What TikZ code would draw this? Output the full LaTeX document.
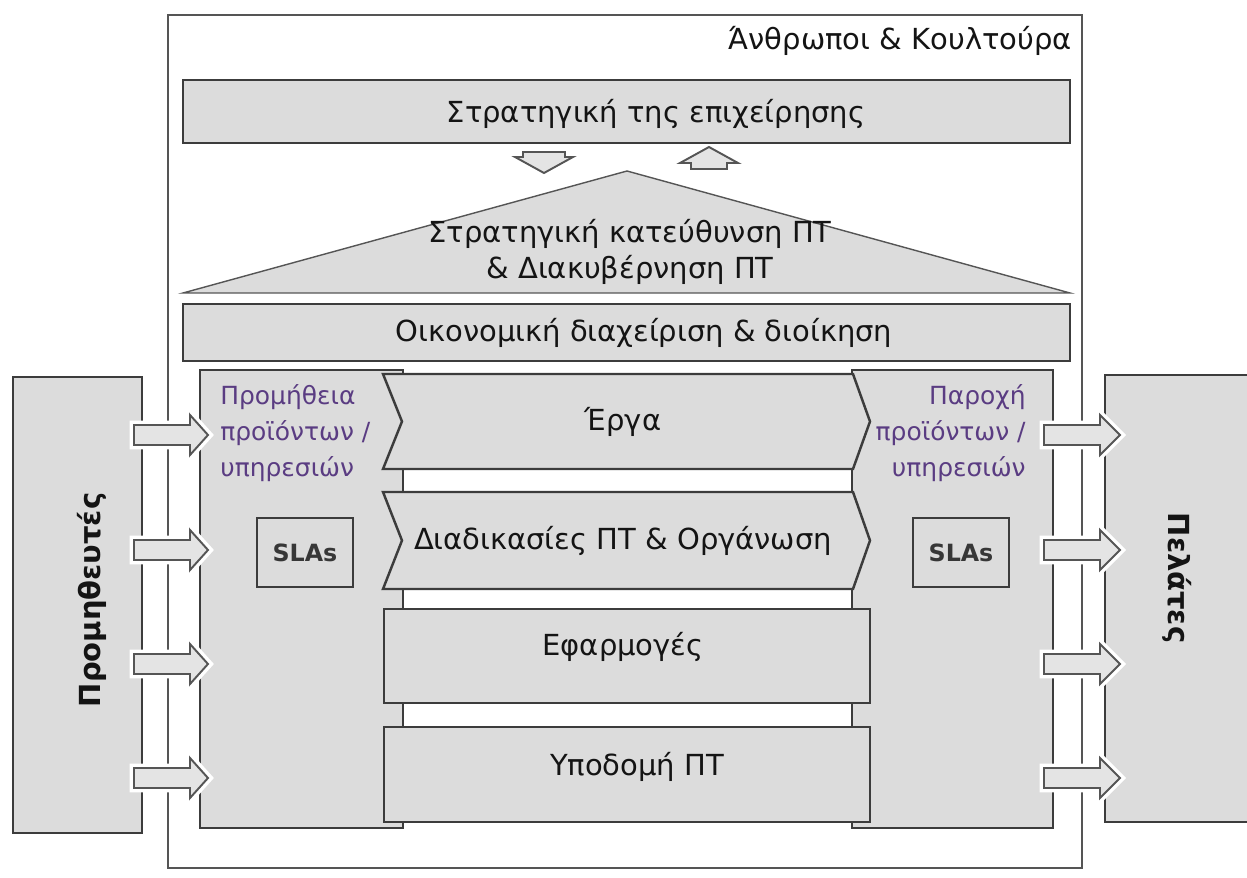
\documentclass[tikz,border=0pt]{standalone}
\usepackage{fontspec}
\setmainfont{DejaVu Sans}
\usepackage{tikz}
\definecolor{boxfill}{HTML}{DCDCDC}
\definecolor{arrowfill}{HTML}{E4E4E4}
\definecolor{edge}{HTML}{3C3C3C}
\definecolor{thinedge}{HTML}{555555}
\definecolor{ink}{HTML}{141414}
\definecolor{panelink}{HTML}{5A3C82}

\begin{document}
\begin{tikzpicture}[
  txt/.style={font=\fontsize{16.5}{20.5}\selectfont,text=ink,inner sep=0pt},
  sidetxt/.style={font=\fontsize{14.2}{20.5}\selectfont,text=panelink,inner sep=0pt},
  bigtxt/.style={font=\bfseries\fontsize{16.5}{20}\selectfont,text=ink,inner sep=0pt},
  layer/.style={fill=boxfill,draw=edge,line width=1.4pt,line join=miter},
  blockarr/.style={fill=arrowfill,draw=thinedge,line width=1.1pt,line join=miter},
  sidearr/.style={blockarr,preaction={draw=white,line width=5pt}}
]
  \useasboundingbox (0,0) rectangle (24.94,17.54);
  % people & culture frame
  \draw[thinedge,line width=1.2pt] (3.36,0.18) rectangle (21.64,17.24);
  \node[txt,anchor=east] (culture) at (21.44,16.72) {Άνθρωποι \& Κουλτούρα};
  % business strategy
  \draw[layer] (3.66,14.68) rectangle (21.40,15.94);
  \node[txt] (bizstrat) at (13.12,15.26) {Στρατηγική της επιχείρησης};
  \draw[blockarr] (10.46,14.50) -- (11.30,14.50) -- (11.30,14.40) -- (11.46,14.40) -- (10.88,14.08) -- (10.30,14.40) -- (10.46,14.40) -- cycle;
  \draw[blockarr] (14.18,14.60) -- (14.76,14.28) -- (14.54,14.28) -- (14.54,14.16) -- (13.82,14.16) -- (13.82,14.28) -- (13.60,14.28) -- cycle;
  % IT governance roof
  \draw[fill=boxfill,draw=thinedge,line width=0.8pt] (3.66,11.68) -- (12.54,14.12) -- (21.40,11.68) -- cycle;
  \node[txt,align=center] (itgov) at (12.60,12.51) {Στρατηγική κατεύθυνση ΠΤ\\\& Διακυβέρνηση ΠΤ};
  % finance
  \draw[layer] (3.66,10.32) rectangle (21.40,11.46);
  \node[txt] (finance) at (12.88,10.88) {Οικονομική διαχείριση \& διοίκηση};
  % side panels
  \draw[layer] (4.00,0.98) rectangle (8.06,10.14);
  \draw[layer] (17.04,0.98) rectangle (21.06,10.14);
  \node[sidetxt,anchor=north west,align=left] (supply) at (4.40,9.86) {Προμήθεια\\προϊόντων /\\υπηρεσιών};
  \node[sidetxt,anchor=north east,align=right] (deliver) at (20.52,9.86) {Παροχή\\προϊόντων /\\υπηρεσιών};
  \node[draw=edge,line width=1.4pt,fill=boxfill,minimum width=1.92cm,minimum height=1.38cm,font=\bfseries\fontsize{13.5}{16}\selectfont,text=ink!85] (slaL) at (6.10,6.49) {SLAs};
  \node[draw=edge,line width=1.4pt,fill=boxfill,minimum width=1.92cm,minimum height=1.38cm,font=\bfseries\fontsize{13.5}{16}\selectfont,text=ink!85] (slaR) at (19.22,6.49) {SLAs};
  % centre column
  \draw[layer] (7.66,10.06) -- (17.06,10.06) -- (17.40,9.11) -- (17.06,8.16) -- (7.66,8.16) -- (8.04,9.11) -- cycle;
  \node[txt] (projects) at (12.46,9.11) {Έργα};
  \draw[layer] (7.66,7.70) -- (17.06,7.70) -- (17.40,6.73) -- (17.06,5.76) -- (7.66,5.76) -- (8.04,6.73) -- cycle;
  \node[txt] (processes) at (12.46,6.73) {Διαδικασίες ΠΤ \& Οργάνωση};
  \draw[layer] (7.68,3.48) rectangle (17.40,5.36);
  \node[txt] (apps) at (12.46,4.60) {Εφαρμογές};
  \draw[layer] (7.68,1.10) rectangle (17.40,3.00);
  \node[txt] (infra) at (12.74,2.20) {Υποδομή ΠΤ};
  % suppliers and customers
  \draw[layer] (0.26,0.88) rectangle (2.84,10.00);
  \node[bigtxt,rotate=90] (suppliers) at (1.84,5.54) {Προμηθευτές};
  \fill[boxfill] (22.10,1.10) rectangle (24.94,10.04);
  \draw[edge,line width=1.4pt] (24.94,10.04) -- (22.10,10.04) -- (22.10,1.10) -- (24.94,1.10);
  \node[bigtxt,rotate=-90] (customers) at (23.54,5.98) {Πελάτες};
  \foreach \y in {8.84,6.54,4.26,1.98} {
    \draw[sidearr] (2.68,\y-0.2) -- (3.80,\y-0.2) -- (3.80,\y-0.4) -- (4.16,\y) -- (3.80,\y+0.4) -- (3.80,\y+0.2) -- (2.68,\y+0.2) -- cycle;
    \draw[sidearr] (20.88,\y-0.2) -- (22.00,\y-0.2) -- (22.00,\y-0.4) -- (22.40,\y) -- (22.00,\y+0.4) -- (22.00,\y+0.2) -- (20.88,\y+0.2) -- cycle;
  }
\end{tikzpicture}
\end{document}
